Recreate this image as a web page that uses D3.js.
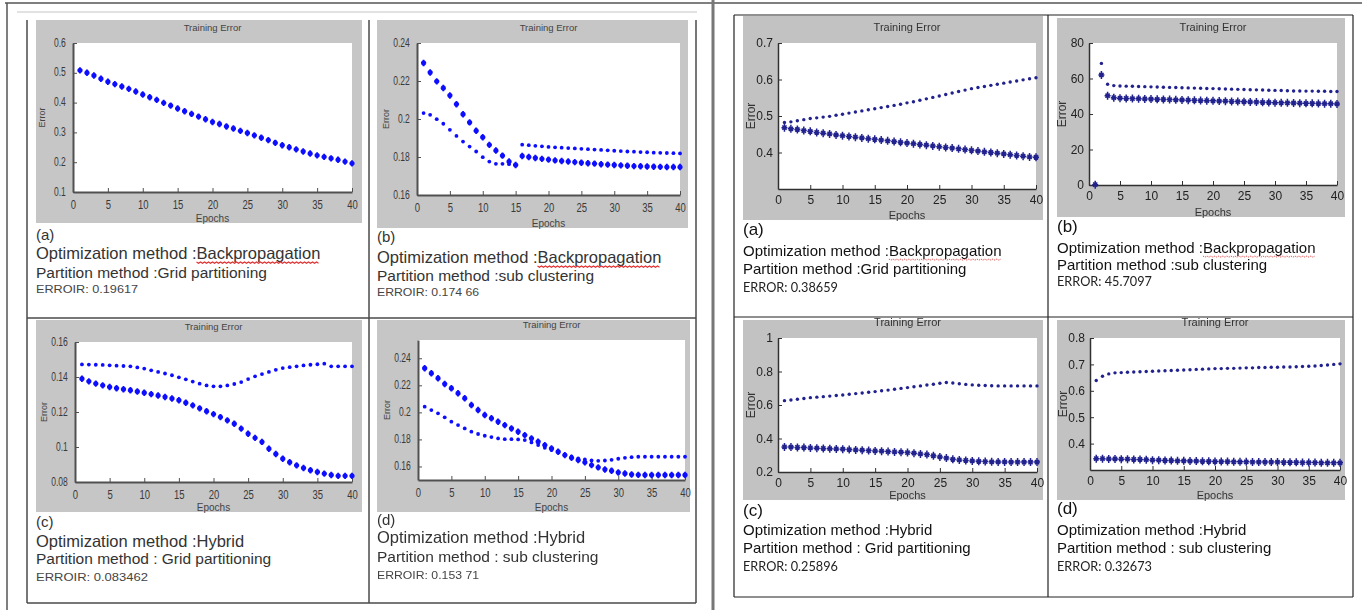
<!DOCTYPE html>
<html>
<head>
<meta charset="utf-8">
<script src="https://cdn.jsdelivr.net/npm/d3@7"></script>
<style>
  body { margin: 0; background: #fff; }
  svg { display: block; }
</style>
</head>
<body>
<svg id="chart" width="1362" height="610"></svg>
<script>
// epochs on the x axis
const epochs = [1,2,3,4,5,6,7,8,9,10,11,12,13,14,15,16,17,18,19,20,
                21,22,23,24,25,26,27,28,29,30,31,32,33,34,35,36,37,38,39,40];
const xTicks = [0,5,10,15,20,25,30,35,40];

// ---- left figure (first run) ----
const leftBpGrid = [0.508,0.500,0.491,0.480,0.470,0.462,0.454,0.446,0.437,0.427,0.418,0.409,0.399,0.390,0.380,0.371,0.362,0.353,0.344,0.335,
                    0.328,0.320,0.313,0.305,0.298,0.290,0.282,0.274,0.265,0.257,0.250,0.243,0.236,0.229,0.223,0.218,0.213,0.208,0.202,0.196];

const leftBpSubA = [0.2295,0.2245,0.2198,0.2163,0.2124,0.2078,0.2025,0.1982,0.1938,0.1904,0.1864,0.1834,0.1807,0.1776,0.1758,0.1805,0.1800,0.1795,0.1790,0.1786,
                    0.1782,0.1779,0.1776,0.1773,0.1770,0.1767,0.1765,0.1762,0.1760,0.1758,0.1756,0.1754,0.1752,0.1751,0.1750,0.1749,0.1748,0.1747,0.1747,0.1747];
const leftBpSubB = [0.2031,0.2022,0.1999,0.1975,0.1943,0.1911,0.1881,0.1855,0.1829,0.1799,0.1776,0.1764,0.1764,0.1762,0.1758,0.1865,0.1862,0.1859,0.1856,0.1853,
                    0.1851,0.1849,0.1847,0.1845,0.1843,0.1841,0.1839,0.1837,0.1835,0.1833,0.1831,0.1829,0.1828,0.1826,0.1825,0.1823,0.1822,0.1821,0.1820,0.1819];

const leftHyGridA = [0.1472,0.1471,0.1470,0.1469,0.1467,0.1465,0.1463,0.1461,0.1455,0.1448,0.1438,0.1429,0.1420,0.1410,0.1398,0.1387,0.1374,0.1362,0.1352,0.1347,
                     0.1347,0.1352,0.1360,0.1371,0.1388,0.1404,0.1417,0.1429,0.1441,0.1451,0.1456,0.1461,0.1466,0.1470,0.1473,0.1476,0.1461,0.1461,0.1461,0.1461];
const leftHyGridB = [0.1390,0.1375,0.1362,0.1352,0.1343,0.1336,0.1330,0.1324,0.1317,0.1310,0.1302,0.1294,0.1286,0.1277,0.1267,0.1253,0.1238,0.1221,0.1204,0.1188,
                     0.1171,0.1152,0.1133,0.1105,0.1076,0.1052,0.1029,0.0990,0.0960,0.0933,0.0913,0.0895,0.0880,0.0867,0.0857,0.0848,0.0840,0.0835,0.0835,0.0835];

const leftHySubA = [0.2326,0.2289,0.2252,0.2210,0.2178,0.2141,0.2104,0.2054,0.2017,0.1980,0.1956,0.1931,0.1906,0.1881,0.1857,0.1832,0.1807,0.1783,0.1758,0.1733,
                    0.1709,0.1684,0.1664,0.1647,0.1630,0.1610,0.1593,0.1578,0.1568,0.1556,0.1548,0.1541,0.1538,0.1537,0.1537,0.1537,0.1537,0.1537,0.1537,0.1537];
const leftHySubB = [0.2042,0.2017,0.1993,0.1963,0.1931,0.1906,0.1881,0.1857,0.1840,0.1827,0.1817,0.1807,0.1802,0.1802,0.1800,0.1795,0.1778,0.1758,0.1738,0.1721,
                    0.1704,0.1689,0.1672,0.1659,0.1652,0.1644,0.1642,0.1644,0.1649,0.1657,0.1664,0.1669,0.1672,0.1672,0.1672,0.1672,0.1672,0.1672,0.1672,0.1672];

// ---- right figure (second run) ----
const rightBpGridA = [0.482,0.484,0.487,0.490,0.493,0.495,0.497,0.499,0.502,0.505,0.508,0.511,0.514,0.517,0.520,0.523,0.526,0.529,0.532,0.536,
                      0.539,0.543,0.547,0.551,0.555,0.559,0.563,0.567,0.571,0.575,0.578,0.581,0.584,0.587,0.590,0.593,0.596,0.599,0.602,0.605];
const rightBpGridB = [0.468,0.465,0.463,0.460,0.458,0.455,0.453,0.451,0.448,0.446,0.444,0.442,0.440,0.438,0.436,0.434,0.432,0.430,0.428,0.426,
                      0.424,0.422,0.420,0.418,0.416,0.414,0.412,0.410,0.408,0.406,0.404,0.402,0.400,0.398,0.396,0.394,0.392,0.390,0.388,0.387];

const rightBpSubA = [0.5,68.5,56.8,56.0,55.8,55.7,55.6,55.5,55.4,55.3,55.2,55.1,55.0,54.9,54.8,54.7,54.6,54.5,54.4,54.3,
                     54.2,54.1,54.0,53.9,53.8,53.7,53.6,53.5,53.4,53.3,53.2,53.1,53.0,53.0,52.9,52.9,52.8,52.8,52.7,52.7];
const rightBpSubB = [0.2,62.0,50.3,49.2,48.9,48.8,48.7,48.6,48.5,48.4,48.3,48.2,48.1,48.0,47.9,47.8,47.7,47.6,47.5,47.4,
                     47.3,47.2,47.1,47.0,46.9,46.8,46.7,46.6,46.5,46.4,46.3,46.3,46.2,46.1,46.0,46.0,45.9,45.8,45.8,45.7];

const rightHyGridA = [0.626,0.630,0.634,0.639,0.644,0.647,0.650,0.653,0.657,0.660,0.664,0.668,0.672,0.676,0.680,0.685,0.689,0.694,0.699,0.704,
                      0.709,0.714,0.719,0.724,0.730,0.734,0.731,0.727,0.723,0.720,0.718,0.716,0.715,0.714,0.714,0.714,0.714,0.714,0.714,0.714];
const rightHyGridB = [0.350,0.349,0.347,0.346,0.344,0.342,0.341,0.339,0.338,0.336,0.334,0.332,0.330,0.328,0.326,0.324,0.322,0.320,0.318,0.316,
                      0.312,0.308,0.304,0.297,0.290,0.283,0.276,0.272,0.269,0.266,0.264,0.262,0.261,0.260,0.260,0.259,0.259,0.259,0.259,0.259];

const rightHySubA = [0.639,0.655,0.664,0.668,0.669,0.670,0.671,0.672,0.673,0.674,0.675,0.676,0.677,0.678,0.679,0.680,0.681,0.682,0.683,0.684,
                     0.684,0.685,0.685,0.686,0.687,0.687,0.688,0.688,0.689,0.689,0.690,0.690,0.691,0.692,0.693,0.694,0.696,0.698,0.700,0.702];
const rightHySubB = [0.343,0.343,0.342,0.342,0.341,0.341,0.340,0.340,0.339,0.337,0.337,0.336,0.336,0.335,0.335,0.334,0.334,0.333,0.333,0.332,
                     0.332,0.332,0.331,0.331,0.331,0.330,0.330,0.330,0.330,0.330,0.329,0.329,0.329,0.328,0.328,0.328,0.327,0.327,0.327,0.327];

// caption texts
const labels = ["(a)", "(b)", "(c)", "(d)"];
const optMethods = ["Optimization method :Backpropagation", "Optimization method :Backpropagation",
                    "Optimization method :Hybrid", "Optimization method :Hybrid"];
const partMethods = ["Partition method :Grid partitioning", "Partition method :sub clustering",
                     "Partition method :  Grid partitioning", "Partition method : sub clustering"];
const leftErrors = ["ERROIR: 0.19617", "ERROIR: 0.174 66", "ERROIR: 0.083462", "ERROIR: 0.153 71"];
const rightErrors = ["ERROR: 0.38659", "ERROR: 45.7097", "ERROR: 0.25896", "ERROR: 0.32673"];

const yTicksL = [[0.1,0.2,0.3,0.4,0.5,0.6], [0.16,0.18,0.2,0.22,0.24], [0.08,0.1,0.12,0.14,0.16], [0.16,0.18,0.2,0.22,0.24]];
const yTicksR = [[0.4,0.5,0.6,0.7], [0,20,40,60,80], [0.2,0.4,0.6,0.8,1], [0.4,0.5,0.6,0.7,0.8]];

const svg = d3.select("#chart");

const defs = svg.append("defs");
defs.append("filter").attr("id", "blurL").append("feGaussianBlur").attr("stdDeviation", 0.7);
defs.append("filter").attr("id", "blurR").append("feGaussianBlur").attr("stdDeviation", 0.45);

//page frame lines
const frame = svg.append("g").attr("fill", "none");
frame.append("line").attr("x1", 5).attr("x2", 1362).attr("y1", 3).attr("y2", 3).attr("stroke", "#555").attr("stroke-width", 1.5);
frame.append("line").attr("x1", 7).attr("x2", 7).attr("y1", 3).attr("y2", 610).attr("stroke", "#555").attr("stroke-width", 1.5);
frame.append("line").attr("x1", 17).attr("x2", 697).attr("y1", 12).attr("y2", 12).attr("stroke", "#e2e2e2").attr("stroke-width", 2);
frame.append("line").attr("x1", 713).attr("x2", 713).attr("y1", 0).attr("y2", 610).attr("stroke", "#777").attr("stroke-width", 3);

// left table grid
[[27, 20, 27, 603], [369, 20, 369, 603], [696, 20, 696, 603], [27, 318, 696, 318], [27, 603, 696, 603]].forEach(l => {
    frame.append("line").attr("x1", l[0]).attr("y1", l[1]).attr("x2", l[2]).attr("y2", l[3])
        .attr("stroke", "#4a4a4a").attr("stroke-width", 1.5);
});
// right table grid
[[734, 15, 734, 597], [1048, 15, 1048, 597], [1353, 15, 1353, 597], [734, 15, 1353, 15], [734, 317, 1353, 317], [734, 597, 1353, 597]].forEach(l => {
    frame.append("line").attr("x1", l[0]).attr("y1", l[1]).attr("x2", l[2]).attr("y2", l[3])
        .attr("stroke", "#222").attr("stroke-width", 1.2);
});

// panel layout: gray figure box, white axes box, caption baselines
const panels = [
    { side: "L", i: 0, fig: [36, 20, 362, 223], ax: [73, 43, 352, 192], dom: [0.1, 0.6], fmt: d3.format(".1f"),
      series: [{ v: leftBpGrid, m: "star" }], cap: [240, 259, 278, 293], cx: 36 },
    { side: "L", i: 1, fig: [377, 20, 688, 228], ax: [417, 43, 680, 195], dom: [0.16, 0.24], fmt: d => d === 0.2 ? "0.2" : d3.format(".2f")(d),
      series: [{ v: leftBpSubB, m: "dot" }, { v: leftBpSubA, m: "star" }], cap: [242, 263, 281, 296], cx: 377 },
    { side: "L", i: 2, fig: [36, 320, 362, 512], ax: [75, 342, 352, 482], dom: [0.08, 0.16], fmt: d => d === 0.1 ? "0.1" : d3.format(".2f")(d),
      series: [{ v: leftHyGridA, m: "dot" }, { v: leftHyGridB, m: "star" }], cap: [527, 547, 564, 581], cx: 36 },
    { side: "L", i: 3, fig: [377, 320, 690, 512], ax: [418, 340, 685, 480], dom: [0.15, 0.2535], fmt: d => d === 0.2 ? "0.2" : d3.format(".2f")(d),
      series: [{ v: leftHySubB, m: "dot" }, { v: leftHySubA, m: "star" }], cap: [525, 543, 562, 579], cx: 377 },
    { side: "R", i: 0, fig: [743, 16, 1043, 220], ax: [778, 43, 1036, 189], dom: [0.3, 0.7], fmt: d3.format(".1f"),
      series: [{ v: rightBpGridA, m: "dot" }, { v: rightBpGridB, m: "star" }], cap: [235, 256, 274, 292], cx: 743 },
    { side: "R", i: 1, fig: [1057, 18, 1345, 217], ax: [1089, 43, 1337, 185], dom: [0, 80], fmt: d3.format("d"),
      series: [{ v: rightBpSubA, m: "dot" }, { v: rightBpSubB, m: "star" }], cap: [232, 253, 270, 286], cx: 1057 },
    { side: "R", i: 2, fig: [743, 320, 1043, 500], ax: [778, 338, 1037, 472], dom: [0.2, 1], fmt: d => d === 1 ? "1" : d3.format(".1f")(d),
      series: [{ v: rightHyGridA, m: "dot" }, { v: rightHyGridB, m: "star" }], cap: [516, 535, 553, 571], cx: 743 },
    { side: "R", i: 3, fig: [1057, 320, 1345, 500], ax: [1090, 338, 1340, 470], dom: [0.3, 0.8], fmt: d3.format(".1f"),
      series: [{ v: rightHySubA, m: "dot" }, { v: rightHySubB, m: "star" }], cap: [514, 535, 553, 571], cx: 1057 }
];

const starPath = (a, b) => `M0,${-a}V${a}M${-b},0H${b}M${-b * 0.7},${-b * 0.7}L${b * 0.7},${b * 0.7}M${-b * 0.7},${b * 0.7}L${b * 0.7},${-b * 0.7}`;

panels.forEach(p => {
    const left = p.side === "L";
    const g = svg.append("g");
    const [fx0, fy0, fx1, fy1] = p.fig;
    const [ax0, ay0, ax1, ay1] = p.ax;

    g.append("rect").attr("x", fx0).attr("y", fy0).attr("width", fx1 - fx0).attr("height", fy1 - fy0)
        .attr("fill", left ? "#c6c6c6" : "#c2c2c2");
    g.append("rect").attr("x", ax0).attr("y", ay0).attr("width", ax1 - ax0).attr("height", ay1 - ay0)
        .attr("fill", "#fff");

    const x = d3.scaleLinear().domain([0, 40]).range([ax0, ax1]);
    const y = d3.scaleLinear().domain(p.dom).range([ay1, ay0]);

    const tickFont = left ? "9.5px" : "12px";
    const axisColor = left ? "#505050" : "#303030";

    const xAxis = g.append("g").attr("transform", `translate(0,${ay1})`)
        .call(d3.axisBottom(x).tickValues(xTicks).tickSizeInner(-4).tickSizeOuter(0).tickPadding(left ? 8 : 6));
    const yAxis = g.append("g").attr("transform", `translate(${ax0},0)`)
        .call(d3.axisLeft(y).tickValues(left ? yTicksL[p.i] : yTicksR[p.i]).tickFormat(p.fmt)
            .tickSizeInner(-4).tickSizeOuter(0).tickPadding(left ? 8 : 5));
    [xAxis, yAxis].forEach(a => {
        a.select(".domain").attr("stroke", axisColor).attr("stroke-width", left ? 2 : 1.5);
        a.selectAll(".tick line").attr("stroke", axisColor);
        a.selectAll(".tick text").attr("fill", left ? "#3a3a3a" : "#222")
            .style("font-family", "'Liberation Sans Narrow', 'Liberation Sans', sans-serif")
            .style("font-size", tickFont);
    });
    if (left) {
        xAxis.selectAll(".tick text").attr("transform", "scale(1,1.35)").attr("dy", "0.45em");
        yAxis.selectAll(".tick text").attr("transform", "scale(0.9,1.3)").attr("dy", "0.25em");
    }

    //axis labels
    g.append("text").attr("x", (ax0 + ax1) / 2).attr("y", ay0 - 12)
        .attr("text-anchor", "middle").attr("fill", left ? "#444" : "#333")
        .style("font-family", "'Liberation Sans Narrow', 'Liberation Sans', sans-serif")
        .style("font-size", left ? "9.5px" : "11px").text("Training Error");
    g.append("text").attr("x", (ax0 + ax1) / 2).attr("y", fy1 - 1.5)
        .attr("text-anchor", "middle").attr("fill", left ? "#444" : "#333")
        .style("font-family", "'Liberation Sans Narrow', 'Liberation Sans', sans-serif")
        .style("font-size", left ? "10px" : "11px").text("Epochs");
    g.append("text")
        .attr("transform", `translate(${left ? ax0 - 28 : ax0 - 23},${(ay0 + ay1) / 2}) rotate(-90)`)
        .attr("text-anchor", "middle").attr("fill", left ? "#444" : "#333")
        .style("font-family", "'Liberation Sans Narrow', 'Liberation Sans', sans-serif")
        .style("font-size", left ? "9px" : "12px").text("Error");

    // markers
    const marks = g.append("g").attr("filter", left ? "url(#blurL)" : "url(#blurR)");
    const col = left ? "#1010ff" : "#20208e";
    p.series.forEach(s => {
        const pts = epochs.map((e, k) => [e, s.v[k]]);
        if (s.m === "dot") {
            marks.selectAll(null).data(pts).enter().append("circle")
                .attr("cx", d => x(d[0])).attr("cy", d => y(d[1]))
                .attr("r", left ? 1.9 : 1.7).attr("fill", col);
        } else {
            marks.selectAll(null).data(pts).enter().append("path")
                .attr("transform", d => `translate(${x(d[0])},${y(d[1])})`)
                .attr("d", left ? starPath(3.2, 2.6) : starPath(4, 3))
                .attr("fill", "none").attr("stroke", col).attr("stroke-width", left ? 1.8 : 1.5);
        }
    });

    // caption under the figure
    const capFont = "'Liberation Sans', Arial, sans-serif";
    g.append("text").attr("x", p.cx).attr("y", p.cap[0]).attr("fill", left ? "#333" : "#111")
        .style("font-family", capFont).style("font-size", left ? "15px" : "17px").text(labels[p.i]);
    const opt = g.append("text").attr("x", p.cx).attr("y", p.cap[1]).attr("fill", left ? "#333" : "#111")
        .style("font-family", capFont).style("font-size", left ? "16.5px" : "15px").text(optMethods[p.i]);
    g.append("text").attr("x", p.cx).attr("y", p.cap[2]).attr("fill", left ? "#333" : "#111")
        .style("font-family", capFont).style("font-size", left ? "15.5px" : "15px").text(partMethods[p.i]);
    g.append("text").attr("x", p.cx).attr("y", p.cap[3]).attr("fill", left ? "#444" : "#222")
        .style("font-family", left ? capFont : "Lato, 'Open Sans', sans-serif")
        .style("font-size", left ? "11px" : "13px")
        .attr("textLength", left ? (p.i === 2 ? 112 : 102) : 95).attr("lengthAdjust", "spacingAndGlyphs")
        .text(left ? leftErrors[p.i] : rightErrors[p.i]);

    // red spell-check underline under "Backpropagation"
    const word = "Backpropagation";
    const idx = optMethods[p.i].indexOf(word);
    if (idx >= 0) {
        const node = opt.node();
        const start = p.cx + node.getSubStringLength(0, idx);
        const len = node.getSubStringLength(idx, word.length);
        const wave = d3.range(0, Math.floor(len / 2) + 1).map(k => [start + k * 2, p.cap[1] + 3 + (k % 2 ? 1.2 : 0)]);
        g.append("path").attr("d", d3.line()(wave)).attr("fill", "none")
            .attr("stroke", left ? "#e03030" : "#e04040").attr("stroke-width", left ? 1.2 : 0.9)
            .attr("stroke-dasharray", left ? null : "1.5,1");
    }
});
</script>
</body>
</html>
